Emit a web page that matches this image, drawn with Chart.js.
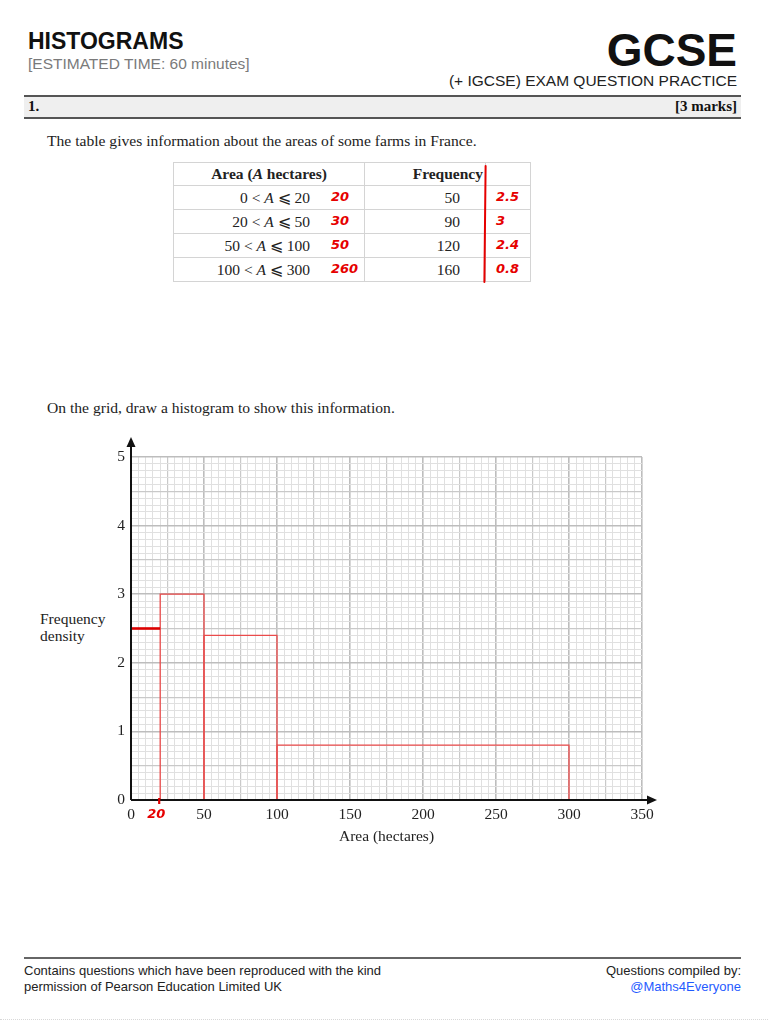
<!DOCTYPE html>
<html>
<head>
<meta charset="utf-8">
<script src="https://cdn.jsdelivr.net/npm/chart.js@4"></script>
<style>
  html, body { margin:0; padding:0; background:#fff; }
  body { width:768px; height:1024px; position:relative; overflow:hidden; }
  .abs { position:absolute; white-space:nowrap; }
  .sans { font-family:"Liberation Sans", Arial, sans-serif; }
  .serif { font-family:"Liberation Serif", "Times New Roman", serif; }
  .red { color:#e60000; font-family:"DejaVu Sans", sans-serif; font-weight:bold; font-style:italic; font-size:13px; }
  table.t { position:absolute; left:173px; top:162px; border-collapse:collapse; table-layout:fixed;
            font-family:"Liberation Serif","DejaVu Serif",serif; font-size:15.5px; color:#222; }
  table.t td { border:1px solid #d4d4d4; padding:0; position:relative; }
  table.t tr.h td { height:22px; font-weight:bold; }
  table.t tr.r td { height:23px; }
</style>
</head>
<body>
<div class="abs sans" style="left:28px;top:28px;font-size:23px;font-weight:bold;color:#111;">HISTOGRAMS</div>
<div class="abs sans" style="left:28px;top:55px;font-size:15.5px;color:#7a7a7a;">[ESTIMATED TIME: 60 minutes]</div>
<div class="abs sans" style="right:31px;top:23px;font-size:46px;font-weight:bold;color:#111;">GCSE</div>
<div class="abs sans" style="right:31px;top:72px;font-size:15.5px;color:#222;">(+ IGCSE) EXAM QUESTION PRACTICE</div>

<div class="abs" style="left:24px;top:95px;width:717px;height:20px;background:#efefef;border-top:2px solid #555;border-bottom:2px solid #555;"></div>
<div class="abs serif" style="left:28px;top:98px;font-size:15px;font-weight:bold;color:#111;">1.</div>
<div class="abs serif" style="right:31px;top:98px;font-size:15px;font-weight:bold;color:#111;">[3 marks]</div>

<div class="abs serif" style="left:47px;top:132px;font-size:15.6px;color:#222;">The table gives information about the areas of some farms in France.</div>

<table class="t" id="tbl">
  <colgroup><col style="width:191px"><col style="width:121px"><col style="width:45px"></colgroup>
  <tbody id="tbody">
    <tr class="h"><td style="text-align:center;">Area (<i>A</i> hectares)</td><td style="text-align:right;padding-right:2px;">Frequency</td><td></td></tr>
  </tbody>
</table>
<div class="abs" style="left:484px;top:165px;width:2px;height:118px;background:#e60000;border-radius:1px;transform:rotate(0.6deg);"></div>

<div class="abs serif" style="left:47px;top:399px;font-size:15.6px;color:#222;">On the grid, draw a histogram to show this information.</div>

<div class="abs serif" style="left:40px;top:610px;font-size:15.5px;color:#222;line-height:17px;">Frequency<br>density</div>

<canvas id="c" width="768" height="440" style="position:absolute;left:0;top:420px;width:768px;height:440px;"></canvas>

<div class="abs" style="left:24px;top:957px;width:717px;height:0;border-top:2px solid #666;"></div>
<div class="abs sans" style="left:24px;top:963px;font-size:13px;color:#222;line-height:15.5px;">Contains questions which have been reproduced with the kind<br>permission of Pearson Education Limited UK</div>
<div class="abs sans" style="right:27px;top:963px;font-size:13px;color:#222;line-height:15.5px;text-align:right;">Questions compiled by:<br><span style="color:#1f5bff;">@Maths4Everyone</span></div>
<div class="abs" style="left:0;top:1019px;width:768px;height:0;border-top:1px dotted #d8d8d8;"></div>

<script>
// ---- data ----
const intervalLabels = ["0 < <i>A</i> ⩽ 20", "20 < <i>A</i> ⩽ 50", "50 < <i>A</i> ⩽ 100", "100 < <i>A</i> ⩽ 300"];
const classBounds = [0, 20, 50, 100, 300];
const frequencies = [50, 90, 120, 160];
const classWidthNotes = ["20", "30", "50", "260"];
const densityNotes = ["2.5", "3", "2.4", "0.8"];
const densities = [2.5, 3, 2.4, 0.8];
const xTickLabels = [0, 50, 100, 150, 200, 250, 300, 350];
const yTickLabels = [0, 1, 2, 3, 4, 5];

// ---- table ----
const tbody = document.getElementById('tbody');
intervalLabels.forEach((lab, i) => {
  const tr = document.createElement('tr');
  tr.className = 'r';
  tr.innerHTML =
    '<td style="text-align:right;padding-right:54px;">' + lab +
      '<span class="red" style="position:absolute;left:157px;top:3px;">' + classWidthNotes[i] + '</span></td>' +
    '<td style="text-align:right;padding-right:25px;">' + frequencies[i] + '</td>' +
    '<td><span class="red" style="position:absolute;left:10px;top:3px;">' + densityNotes[i] + '</span></td>';
  tbody.appendChild(tr);
});

// ---- chart ----
const thinRed = '#ea4b4b';
const datasets = [];
// first bar: hand-drawn top only
datasets.push({
  data: [{x: classBounds[0], y: densities[0]}, {x: classBounds[1], y: densities[0]}],
  borderColor: '#dc0000', borderWidth: 2.6
});
for (let i = 1; i < densities.length; i++) {
  const lo = classBounds[i], hi = classBounds[i + 1], d = densities[i];
  datasets.push({
    data: [{x: lo, y: 0}, {x: lo, y: d}, {x: hi, y: d}, {x: hi, y: 0}],
    borderColor: thinRed, borderWidth: 1.3
  });
}
datasets.forEach(ds => { ds.showLine = true; ds.pointRadius = 0; ds.fill = false; ds.tension = 0; });

function gridStyle(v, majorStep, midStep, minorStep) {
  const k = Math.round(v / minorStep);
  const perMajor = Math.round(majorStep / minorStep), perMid = Math.round(midStep / minorStep);
  if (k % perMajor === 0) return 'major';
  if (k % perMid === 0) return 'mid';
  return 'minor';
}
const gridColors = {major: '#bdbdbd', mid: '#c9c9c9', minor: '#e0e0e0'};
const gridWidths = {major: 1.6, mid: 1.2, minor: 1};

const axesPlugin = {
  id: 'axesArrows',
  afterDatasetsDraw(chart) {
    const {ctx} = chart;
    const xs = chart.scales.x, ys = chart.scales.y;
    const x0 = xs.getPixelForValue(0), y0 = ys.getPixelForValue(0);
    const yTop = ys.getPixelForValue(5) - 20, xEnd = xs.getPixelForValue(350) + 15;
    ctx.save();
    ctx.strokeStyle = '#111'; ctx.fillStyle = '#111'; ctx.lineWidth = 2;
    ctx.beginPath(); ctx.moveTo(x0, y0); ctx.lineTo(x0, yTop + 6); ctx.stroke();
    ctx.beginPath(); ctx.moveTo(x0, y0); ctx.lineTo(xEnd - 6, y0); ctx.stroke();
    ctx.beginPath(); ctx.moveTo(x0, yTop); ctx.lineTo(x0 - 4.5, yTop + 10); ctx.lineTo(x0 + 4.5, yTop + 10); ctx.closePath(); ctx.fill();
    ctx.beginPath(); ctx.moveTo(xEnd, y0); ctx.lineTo(xEnd - 10, y0 - 4.5); ctx.lineTo(xEnd - 10, y0 + 4.5); ctx.closePath(); ctx.fill();
    // hand-written class boundary note
    const x20 = xs.getPixelForValue(classBounds[1]);
    ctx.strokeStyle = '#e00000'; ctx.lineWidth = 2.2;
    ctx.beginPath(); ctx.moveTo(x20 - 1, y0 - 2); ctx.lineTo(x20 - 1, y0 + 4); ctx.stroke();
    ctx.fillStyle = '#e60000';
    ctx.font = 'italic bold 13px "DejaVu Sans", sans-serif';
    ctx.textAlign = 'center'; ctx.textBaseline = 'middle';
    ctx.fillText(String(classBounds[1]), x20 - 4, y0 + 15);
    ctx.restore();
  }
};

new Chart(document.getElementById('c'), {
  type: 'scatter',
  data: { datasets },
  options: {
    responsive: false,
    animation: false,
    devicePixelRatio: 1,
    layout: { padding: { left: 0, right: 126, top: 37, bottom: 10 } },
    plugins: { legend: { display: false }, tooltip: { enabled: false } },
    scales: {
      x: {
        type: 'linear', min: 0, max: 350,
        afterFit(s) { s.height = 50; },
        border: { display: false },
        grid: {
          drawTicks: false,
          color: c => gridColors[gridStyle(c.tick.value, 50, 25, 5)],
          lineWidth: c => gridWidths[gridStyle(c.tick.value, 50, 25, 5)]
        },
        ticks: {
          stepSize: 5, autoSkip: false, maxRotation: 0, minRotation: 0, padding: 6,
          color: '#222', font: { family: '"Liberation Serif", serif', size: 15.5 },
          callback: v => xTickLabels.includes(Math.round(v)) && Math.abs(v - Math.round(v)) < 1e-6 ? String(Math.round(v)) : ''
        },
        title: { display: true, text: 'Area (hectares)', color: '#222', padding: { top: 2, bottom: 4 },
                 font: { family: '"Liberation Serif", serif', size: 15.5 } }
      },
      y: {
        type: 'linear', min: 0, max: 5,
        afterFit(s) { s.width = 131; },
        border: { display: false },
        grid: {
          drawTicks: false,
          color: c => gridColors[gridStyle(c.tick.value, 1, 0.5, 0.1)],
          lineWidth: c => gridWidths[gridStyle(c.tick.value, 1, 0.5, 0.1)]
        },
        ticks: {
          stepSize: 0.1, autoSkip: false, padding: 6,
          color: '#222', font: { family: '"Liberation Serif", serif', size: 15.5 },
          callback: v => {
            const r = Math.round(v);
            return Math.abs(v - r) < 1e-6 && yTickLabels.includes(r) ? String(r) : '';
          }
        }
      }
    }
  },
  plugins: [axesPlugin]
});
</script>
</body>
</html>
